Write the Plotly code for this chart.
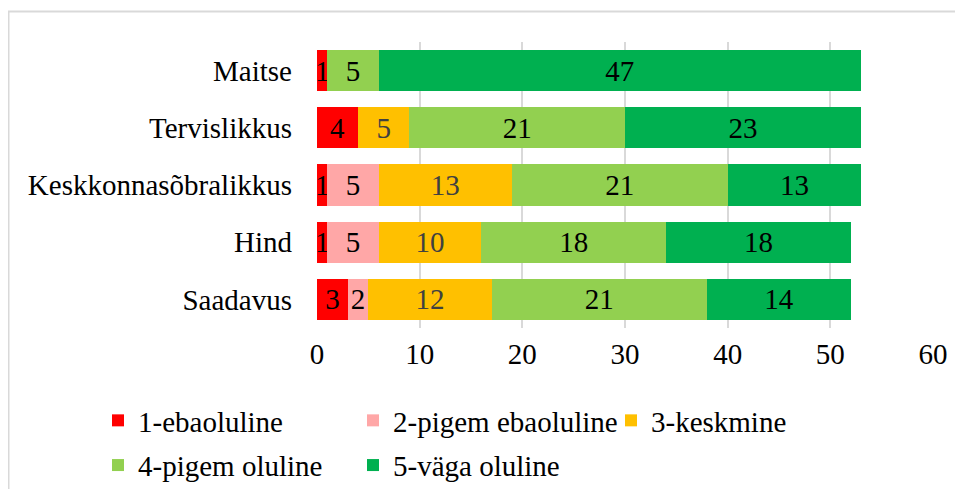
import plotly.graph_objects as go

categories = ["Maitse", "Tervislikkus", "Keskkonnasõbralikkus", "Hind", "Saadavus"]
series_names = ["1-ebaoluline", "2-pigem ebaoluline", "3-keskmine", "4-pigem oluline", "5-väga oluline"]
v1 = [1, 4, 1, 1, 3]
v2 = [0, 0, 5, 5, 2]
v3 = [0, 5, 13, 10, 12]
v4 = [5, 21, 21, 18, 21]
v5 = [47, 23, 13, 18, 14]
x_ticks = [0, 10, 20, 30, 40, 50, 60]

colors = ["#FF0000", "#FFA7A7", "#FFC000", "#92D050", "#00B050"]
text_colors = ["#000000", "#000000", "#404040", "#000000", "#000000"]
legend_ids = ["legend", "legend2", "legend3", "legend", "legend2"]
FONT = "Liberation Serif"
FS = 29

W, H = 947, 481
L, R, T, B = 309, 22, 34, 161
pw = W - L - R
ph = H - T - B

fig = go.Figure()
for i, (name, vals, c, tc) in enumerate(zip(series_names, [v1, v2, v3, v4, v5], colors, text_colors)):
    fig.add_trace(go.Bar(
        y=categories, x=vals, name=name, orientation="h",
        marker=dict(color=c, line=dict(width=0)),
        text=[str(v) if v else "" for v in vals],
        textposition="inside", insidetextanchor="middle",
        constraintext="none", cliponaxis=False,
        textfont=dict(family=FONT, size=FS, color=tc),
        hoverinfo="x+name",
        legend=legend_ids[i], legendgroup=name,
    ))

def lx(px):
    return (px - 8 - L) / pw

def ly(py):
    return (H - B - (py - 8)) / ph

leg_common = dict(orientation="v", yanchor="top", xanchor="left", traceorder="grouped",
                  font=dict(size=FS, family=FONT), itemwidth=30, tracegroupgap=4,
                  bgcolor="rgba(0,0,0,0)")

fig.update_layout(
    barmode="stack", bargap=0.28,
    width=W, height=H,
    margin=dict(l=L, r=R, t=T, b=B, autoexpand=False),
    paper_bgcolor="white", plot_bgcolor="white",
    font=dict(family=FONT, size=FS, color="#000000"),
    xaxis=dict(range=[0, 60], tickvals=x_ticks, showgrid=True, gridcolor="#D9D9D9", gridwidth=2,
               zeroline=False, showline=False, ticks="", tickfont=dict(size=FS, family=FONT),
               ticklabelstandoff=6),
    yaxis=dict(categoryorder="array", categoryarray=categories[::-1], showgrid=False,
               ticks="", tickfont=dict(size=FS, family=FONT), ticklabelstandoff=24),
    legend=dict(x=lx(98), y=ly(395), **leg_common),
    legend2=dict(x=lx(353), y=ly(395), **leg_common),
    legend3=dict(x=lx(611), y=ly(395), **leg_common),
    shapes=[dict(type="rect", xref="paper", yref="paper",
                 x0=(0.5 - L) / pw, x1=1.3, y0=-1.0, y1=(H - B - 3.5) / ph,
                 line=dict(color="#D9D9D9", width=2), fillcolor="rgba(0,0,0,0)", layer="below")],
)

fig.write_html("out.html")
